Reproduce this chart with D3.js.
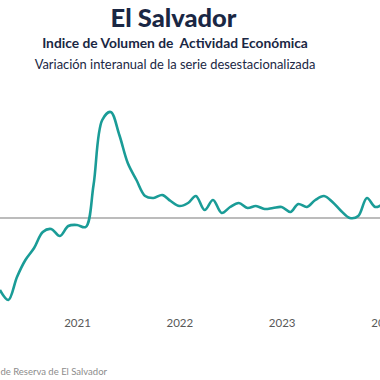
<!DOCTYPE html>
<html><head><meta charset="utf-8">
<script src="https://cdn.jsdelivr.net/npm/d3@7"></script>
<style>
html,body{margin:0;padding:0;background:#fff;overflow:hidden}
svg{display:block}
</style></head>
<body><div id="chart"></div>
<script>
// Monthly dates (Apr 2020 – Jan 2024)
const months = [
"2020-04","2020-05","2020-06","2020-07","2020-08","2020-09","2020-10","2020-11","2020-12",
"2021-01","2021-02","2021-03","2021-04","2021-05","2021-06","2021-07","2021-08","2021-09","2021-10","2021-11","2021-12",
"2022-01","2022-02","2022-03","2022-04","2022-05","2022-06","2022-07","2022-08","2022-09","2022-10","2022-11","2022-12",
"2023-01","2023-02","2023-03","2023-04","2023-05","2023-06","2023-07","2023-08","2023-09","2023-10","2023-11","2023-12",
"2024-01"];
// Year-on-year variation (%)
const values = [
-18,-20.5,-14.75,-10.5,-7.5,-3.5,-2.75,-4.5,-2,
-1.75,-2.25,8.25,24.5,26.5,20.75,13.75,9.5,5.5,5,5.75,4.25,
3,3.75,5.5,2,4.5,1.25,2.75,3.75,2.5,3,2.25,2.5,
2.75,1.5,3.5,2.75,4.5,5.5,4,1.75,0,0.5,5,2.75,
3.75];
const yearTicks = ["2021","2022","2023","2024"];

const title = "El Salvador";
const subtitle = "Indice de Volumen de  Actividad Económica";
const subtitle2 = "Variación interanual de la serie desestacionalizada";
const source = "Fuente: Banco Central de Reserva de El Salvador";

const W = 380, H = 380;
const parse = d3.timeParse("%Y-%m");
const data = months.map((m,i)=>({date: parse(m), value: values[i]}));

const svg = d3.select("#chart").append("svg").attr("width",W).attr("height",H);

const x = d3.scaleTime()
  .domain([parse("2021-01"), parse("2023-01")])
  .range([77, 281.7]);
const y = d3.scaleLinear().domain([0, 25]).range([218, 118]);

// zero line
svg.append("line")
  .attr("x1",0).attr("x2",W)
  .attr("y1",y(0)).attr("y2",y(0))
  .attr("stroke","#a6a6a6").attr("stroke-width",1.5);

// series line
const line = d3.line()
  .x(d=>x(d.date)).y(d=>y(d.value))
  .curve(d3.curveCatmullRom.alpha(0.5));
svg.append("path").datum(data)
  .attr("d",line)
  .attr("fill","none")
  .attr("stroke","#1a9c97")
  .attr("stroke-width",2.6)
  .attr("stroke-linejoin","round");

// x axis
const xAxis = d3.axisBottom(x)
  .tickValues(yearTicks.map(t=>parse(t+"-01")))
  .tickFormat(d3.timeFormat("%Y"))
  .tickSize(0);
const gx = svg.append("g").attr("transform","translate(0,316)").call(xAxis);
gx.select(".domain").remove();
gx.selectAll("text")
  .attr("font-family","Lato, 'Open Sans', sans-serif")
  .attr("font-size",11.5)
  .attr("fill","#595959");

// titles
svg.append("text").text(title)
  .attr("x",173.5).attr("y",27).attr("text-anchor","middle")
  .attr("font-family","Lato, sans-serif").attr("font-weight","900")
  .attr("font-size",25.5).attr("fill","#1a2744");
svg.append("text").text(subtitle)
  .attr("x",175).attr("y",48).attr("text-anchor","middle")
  .attr("font-family","Lato, sans-serif").attr("font-weight","700")
  .attr("font-size",13.8).attr("fill","#1a2744").style("white-space","pre")
  .attr("xml:space","preserve");
svg.append("text").text(subtitle2)
  .attr("x",175).attr("y",69).attr("text-anchor","middle")
  .attr("font-family","Lato, sans-serif").attr("font-weight","400")
  .attr("font-size",12.9).attr("fill","#1a2744");

// source
svg.append("text").text(source)
  .attr("x",107).attr("y",375).attr("text-anchor","end")
  .attr("font-family","Lato, sans-serif")
  .attr("font-size",9.5).attr("fill","#8c8c8c");
</script>
</body></html>
